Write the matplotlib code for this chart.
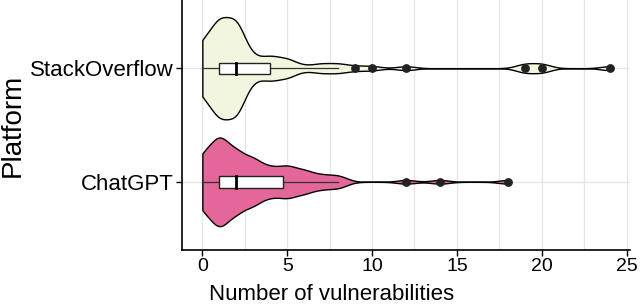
import numpy as np
import matplotlib
matplotlib.use("Agg")
import matplotlib.pyplot as plt

# vulnerabilities per answer, stored as value -> number of answers
platforms = ["ChatGPT", "StackOverflow"]
gpt_values = [0, 1, 2, 3, 4, 5, 6, 7, 8, 12, 14, 18]
gpt_counts = [12, 20, 13, 10, 6, 7, 5, 3, 3, 1, 1, 1]
so_values = [0, 1, 2, 3, 4, 5, 6, 7, 8, 9, 10, 12, 19, 20, 24]
so_counts = [11, 20, 20, 4, 5, 4, 1, 2, 2, 1, 1, 1, 2, 2, 1]
fills = ["#E4679A", "#F2F6DE"]
xticks = [0, 5, 10, 15, 20, 25]

BW = 0.55   # kernel bandwidth for the violins

plt.rcParams['font.family'] = ['Liberation Sans', 'DejaVu Sans']


def density(x):
    grid = np.linspace(x.min(), x.max(), 512)
    d = np.exp(-0.5 * ((grid[:, None] - x[None, :]) / BW) ** 2).sum(axis=1)
    d /= len(x) * BW * np.sqrt(2 * np.pi)
    return grid, d


data = [np.repeat(gpt_values, gpt_counts).astype(float),
        np.repeat(so_values, so_counts).astype(float)]
dens = [density(x) for x in data]
dmax = max(d.max() for _, d in dens)

fig = plt.figure(figsize=(6.4, 3.04), dpi=100)
ax = fig.add_axes([182 / 640, 54 / 304, 448 / 640, 250 / 304])

for xv in np.arange(0, 25.1, 2.5):
    ax.axvline(xv, color="#E6E6E6", lw=1.0, zorder=0)
for yv in [1, 2]:
    ax.axhline(yv, color="#E6E6E6", lw=1.0, zorder=0)

for i, x in enumerate(data):
    pos = i + 1
    grid, d = dens[i]
    w = 0.45 * d / dmax
    ax.fill_between(grid, pos - w, pos + w, facecolor=fills[i],
                    edgecolor="black", lw=1.0, zorder=2)

    q1, med, q3 = np.percentile(x, [25, 50, 75])
    iqr = q3 - q1
    inside = x[(x >= q1 - 1.5 * iqr) & (x <= q3 + 1.5 * iqr)]
    outl = np.unique(x[(x < q1 - 1.5 * iqr) | (x > q3 + 1.5 * iqr)])
    ax.plot([inside.min(), q1], [pos, pos], color="#333333", lw=0.9, zorder=3)
    ax.plot([q3, inside.max()], [pos, pos], color="#333333", lw=0.9, zorder=3)
    ax.add_patch(plt.Rectangle((q1, pos - 0.05), q3 - q1, 0.1, facecolor="white",
                               edgecolor="#222222", lw=1.0, zorder=4))
    ax.plot([med, med], [pos - 0.05, pos + 0.05], color="black", lw=2.0, zorder=5)
    ax.scatter(outl, [pos] * len(outl), s=28, color="#222222", zorder=6)

ax.set_xlim(-1.2, 25.2)
ax.set_ylim(0.4, 2.6)
ax.set_xticks(xticks)
ax.set_yticks([1, 2])
ax.set_yticklabels(platforms)
ax.tick_params(axis="x", labelsize=14, length=4, width=1, pad=2)
ax.tick_params(axis="y", labelsize=16, length=4, width=1, pad=2)
for s in ["top", "right"]:
    ax.spines[s].set_visible(False)
for s in ["left", "bottom"]:
    ax.spines[s].set_linewidth(1.2)

ax.set_xlabel("Number of vulnerabilities", fontsize=16, va="baseline")
ax.xaxis.set_label_coords(150 / 448, -0.2)
ax.set_ylabel("Platform", fontsize=20, va="center")
ax.yaxis.set_label_coords(-169 / 448, 0.5)

fig.savefig("out.png", dpi=100)
